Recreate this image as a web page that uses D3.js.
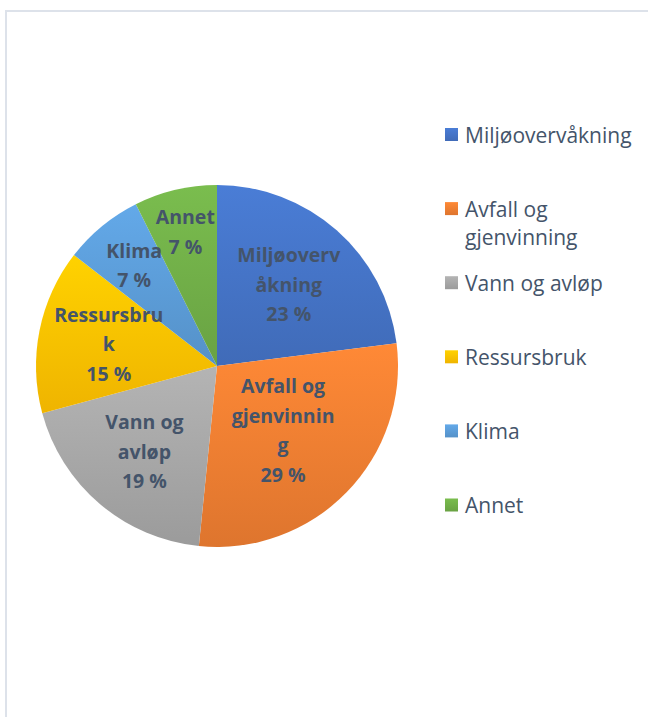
<!DOCTYPE html>
<html>
<head>
<meta charset="utf-8">
<script src="https://cdn.jsdelivr.net/npm/d3@7"></script>
<style>
  html, body { margin: 0; padding: 0; background: #fff; }
  svg { display: block; }
</style>
</head>
<body>
<svg id="chart" width="648" height="717"></svg>
<script>
// ---- data ----
const categories = ["Miljøovervåkning", "Avfall og gjenvinning", "Vann og avløp", "Ressursbruk", "Klima", "Annet"];
const values = [23.0, 28.6, 19.2, 14.7, 7.1, 7.4];
const colors = ["#4472C4", "#ED7D31", "#A5A5A5", "#FFC000", "#5B9BD5", "#70AD47"];
const sliceLabelLines = [
  ["Miljøoverv", "åkning"],
  ["Avfall og", "gjenvinnin", "g"],
  ["Vann og", "avløp"],
  ["Ressursbru", "k"],
  ["Klima"],
  ["Annet"]
];
const legendLines = [
  ["Miljøovervåkning"],
  ["Avfall og", "gjenvinning"],
  ["Vann og avløp"],
  ["Ressursbruk"],
  ["Klima"],
  ["Annet"]
];

// ---- layout ----
const cx = 217, cy = 366, R = 181;
const labelRadiusFactor = [0.60, 0.51, 0.62, 0.61, 0.72, 0.76];
const textColor = "#44546A";
const labelFont = "'Open Sans', sans-serif";

const svg = d3.select("#chart");

// frame
svg.append("rect")
  .attr("x", 6).attr("y", 11)
  .attr("width", 700).attr("height", 760)
  .attr("fill", "#fff")
  .attr("stroke", "#DDE2EA")
  .attr("stroke-width", 2);

// gradients
const defs = svg.append("defs");
colors.forEach((c, i) => {
  const g = defs.append("linearGradient")
    .attr("id", "grad" + i)
    .attr("x1", 0).attr("y1", 0).attr("x2", 0).attr("y2", 1);
  g.append("stop").attr("offset", "0%").attr("stop-color", d3.color(c).brighter(0.25).formatHex());
  g.append("stop").attr("offset", "100%").attr("stop-color", d3.color(c).darker(0.18).formatHex());
});

const pie = d3.pie().sort(null).value(d => d)(values);
const arc = d3.arc().innerRadius(0).outerRadius(R);

const g = svg.append("g").attr("transform", `translate(${cx},${cy})`);

g.selectAll("path.slice")
  .data(pie)
  .join("path")
  .attr("class", "slice")
  .attr("d", arc)
  .attr("fill", (d, i) => `url(#grad${i})`);

const total = d3.sum(values);
const lineH = 29.5;

pie.forEach((d, i) => {
  const r = R * labelRadiusFactor[i];
  const la = d3.arc().innerRadius(r).outerRadius(r);
  const [lx, ly] = la.centroid(d);
  const lines = sliceLabelLines[i].concat([Math.round(d.data / total * 100) + " %"]);
  const n = lines.length;
  const t = g.append("text")
    .attr("text-anchor", "middle")
    .attr("font-family", labelFont)
    .attr("font-weight", "bold")
    .attr("font-size", 19.5)
    .attr("fill", textColor);
  lines.forEach((s, k) => {
    t.append("tspan")
      .attr("x", lx)
      .attr("y", ly + (k - (n - 1) / 2) * lineH + 7)
      .text(s);
  });
});

// legend
const legendX = 445, legendY0 = 142.5, legendStep = 74.1;
const leg = svg.append("g");
categories.forEach((c, i) => {
  const by = legendY0 + i * legendStep;
  leg.append("rect")
    .attr("x", legendX).attr("y", by - 14.5)
    .attr("width", 13).attr("height", 13)
    .attr("fill", `url(#grad${i})`);
  const t = leg.append("text")
    .attr("font-family", labelFont)
    .attr("font-size", 21)
    .attr("fill", textColor);
  legendLines[i].forEach((s, k) => {
    t.append("tspan").attr("x", legendX + 20).attr("y", by + k * 28).text(s);
  });
});
</script>
</body>
</html>
